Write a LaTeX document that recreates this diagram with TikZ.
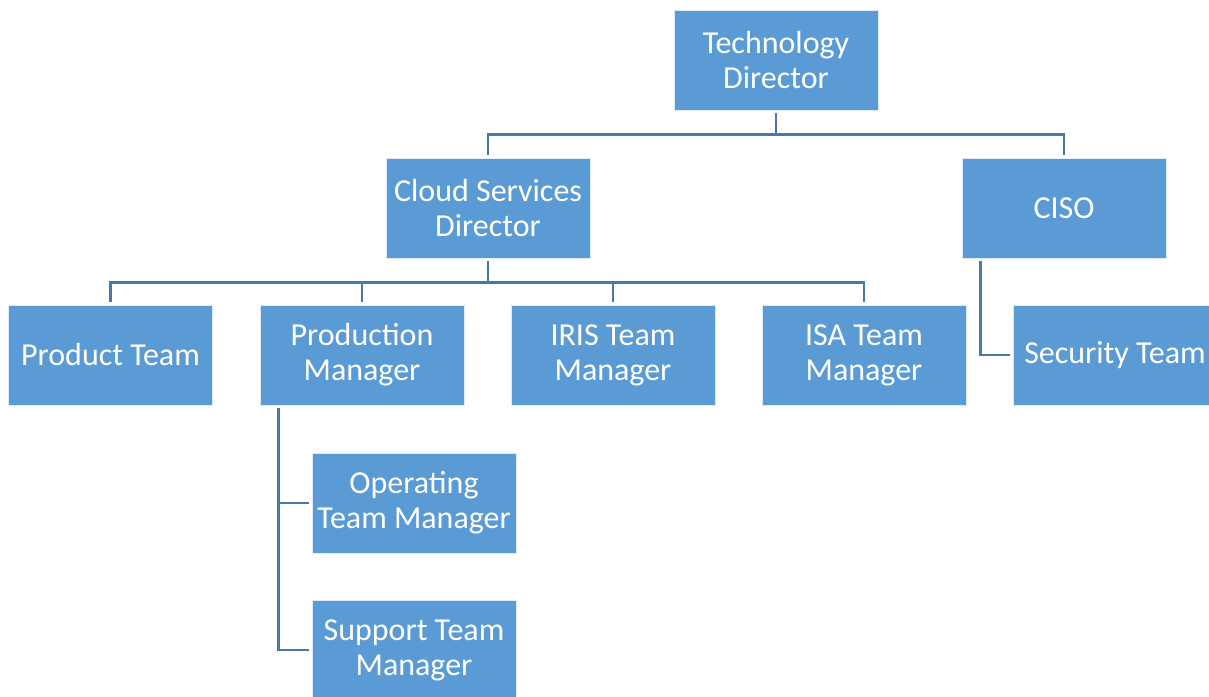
\documentclass[tikz,border=0pt]{standalone}
\usepackage{fontspec}
\setmainfont{Carlito}
\usepackage{xcolor}
\usepackage{tikz}
\usetikzlibrary{positioning,calc}

\definecolor{boxblue}{HTML}{5B9BD5}
\definecolor{lineblue}{HTML}{4677AE}

\begin{document}
\begin{tikzpicture}[x=1pt, y=-1pt,
    orgbox/.style={fill=boxblue, draw=white!80!boxblue, line width=0.6pt, text=white,
        minimum width=204pt, minimum height=100pt, align=center, inner sep=2pt,
        font=\fontsize{32}{35}\selectfont},
    link/.style={draw=lineblue, line width=2.6pt, shorten <=3pt, shorten >=3pt}]
    \useasboundingbox (0,0) rectangle (1209,696);
    \clip (0,0) rectangle (1209,696);

    % Top level
    \node[orgbox] (tech) at (776,60) {Technology\\Director};

    % Directors
    \node[orgbox] (cloud) at (488,208) {Cloud Services\\Director};
    \node[orgbox] (ciso) at (1064,208) {CISO};

    % Teams
    \node[orgbox] (product) at (110.5,355) {Product Team};
    \node[orgbox] (prodmgr) at (362,355) {Production\\Manager};
    \node[orgbox] (iris) at (613,355) {IRIS Team\\Manager};
    \node[orgbox] (isa) at (864,355) {ISA Team\\Manager};
    \node[orgbox] (security) at (1115,355) {Security Team};

    % Under production
    \node[orgbox] (operating) at (414,503) {Operating\\Team Manager};
    \node[orgbox] (support) at (414,650) {Support Team\\Manager};

    % Links
    \draw[link] (tech.south) -- ++(0,24) -| (cloud.north);
    \draw[link] (tech.south) -- ++(0,24) -| (ciso.north);
    \foreach \t in {product,prodmgr,iris,isa}
        \draw[link] (cloud.south) -- ++(0,24) -| (\t.north);
    \draw[link] ([xshift=19pt]ciso.south west) |- (security.west);
    \draw[link] ([xshift=19pt]prodmgr.south west) |- (operating.west);
    \draw[link] ([xshift=19pt]prodmgr.south west) |- (support.west);
\end{tikzpicture}
\end{document}
